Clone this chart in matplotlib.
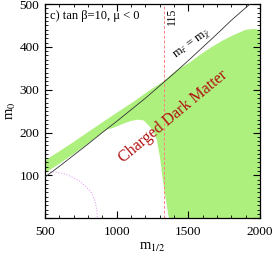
import matplotlib
matplotlib.use("Agg")
import matplotlib.pyplot as plt
from matplotlib.ticker import MultipleLocator

plt.rcParams["font.family"] = ["Liberation Serif", "DejaVu Serif"]
plt.rcParams["mathtext.fontset"] = "stix"

GREEN = "#aef07e"
DARKRED = "#b01010"

# green (preferred relic density) region, outline in (m_1/2, m_0)
green_x = [500, 600, 700, 800, 900, 930, 970, 1000, 1050, 1100, 1150, 1190, 1232, 1260,
           1281, 1302, 1318, 1335, 1350, 1362, 1366, 2000, 2000, 1960, 1900, 1812, 1730,
           1651, 1580, 1512, 1421, 1380, 1330, 1232, 1114, 1000, 884, 800, 700, 600, 500]
green_y = [105, 127, 150, 174, 200, 207, 210, 214, 221, 227, 230, 228, 213, 200,
           182, 143, 100, 60, 30, 5, 0, 0, 440, 442, 440, 427, 413,
           397, 381, 364, 346, 335, 320, 299, 271, 246, 220, 201, 178, 156, 135]

# m_stau = m_chi boundary
stau_x = [500, 600, 700, 800, 900, 1000, 1100, 1200, 1300, 1400, 1500, 1600, 1700, 1800, 1930]
stau_y = [96, 121, 147, 173, 200, 226, 253, 280, 309, 338, 368, 399, 430, 462, 500]

# dotted contour lower left
dot_x = [535, 590, 650, 730, 790, 828, 850, 862, 866]
dot_y = [108, 107, 102, 89, 72, 58, 38, 19, 0]

mh_x = 1330  # m_h = 115 GeV

fig = plt.figure(figsize=(2.73, 2.56), dpi=100)
ax = fig.add_axes([0.165, 0.148, 0.787, 0.836])

ax.fill(green_x, green_y, color=GREEN, lw=0, zorder=1)
ax.plot(stau_x, stau_y, color="#333333", lw=0.6, zorder=3)
ax.plot(dot_x, dot_y, color="#e0a8f0", lw=0.8, ls=(0, (1, 1.5)), zorder=2)
ax.axvline(mh_x, color="#ff8080", lw=0.7, ls=(0, (3, 2)), zorder=2)

ax.text(mh_x + 12, 491, "115", rotation=90, ha="left", va="top", fontsize=8.5)
ax.text(1530, 406, r"m$_{\tilde{\tau}}$ = m$_{\tilde{\chi}}$", rotation=36, ha="center",
        va="center", fontsize=9)
ax.text(1395, 238, "Charged Dark Matter", rotation=39.6, ha="center", va="center",
        fontsize=11.5, color=DARKRED)
ax.text(535, 472, "c) tan β=10, μ < 0", ha="left", va="center", fontsize=9)

ax.set_xlim(500, 2000)
ax.set_ylim(0, 500)
ax.xaxis.set_major_locator(MultipleLocator(500))
ax.xaxis.set_minor_locator(MultipleLocator(100))
ax.yaxis.set_major_locator(MultipleLocator(100))
ax.yaxis.set_minor_locator(MultipleLocator(10))
ax.yaxis.set_major_formatter(lambda v, p: "" if v == 0 else f"{v:.0f}")
ax.tick_params(which="both", direction="in", top=True, right=True, labelsize=9.5)
ax.tick_params(axis="x", pad=6)
ax.tick_params(axis="y", pad=4)
ax.tick_params(which="major", length=5, width=0.8)
ax.tick_params(which="minor", length=2.5, width=0.6)
for s in ax.spines.values():
    s.set_linewidth(0.9)

ax.set_xlabel(r"m$_{1/2}$", fontsize=10.5, labelpad=2)
ax.set_ylabel(r"m$_0$", fontsize=10.5, labelpad=1)

fig.savefig("out.png", dpi=100, facecolor="white")
